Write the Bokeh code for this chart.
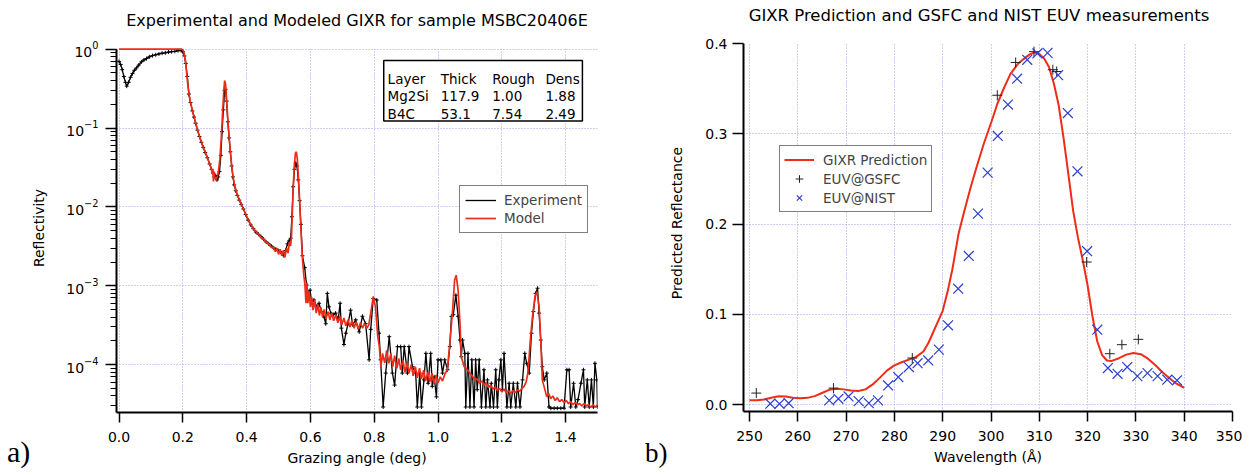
from bokeh.plotting import figure
from bokeh.layouts import row, column
from bokeh.models import (Range1d, Legend, LegendItem, BoxAnnotation, Label, FixedTicker,
                          PrintfTickFormatter, Div)
from bokeh.core.properties import value
from bokeh.embed import file_html
from bokeh.resources import INLINE

# ---------------- data: left panel (GIXR reflectivity) ----------------
exp_angle = [
    0.000, 0.005, 0.010, 0.015, 0.020, 0.024, 0.030, 0.036, 0.042, 0.048,
    0.055, 0.062, 0.070, 0.078, 0.086, 0.095, 0.105, 0.115, 0.125, 0.135,
    0.145, 0.155, 0.165, 0.175, 0.185, 0.195, 0.200, 0.205, 0.209, 0.214,
    0.219, 0.224, 0.230, 0.235, 0.240, 0.246, 0.252, 0.258, 0.264, 0.270,
    0.277, 0.284, 0.290, 0.295, 0.299, 0.303, 0.307, 0.311, 0.315, 0.319,
    0.323, 0.327, 0.331, 0.334, 0.337, 0.341, 0.345, 0.349, 0.353, 0.357,
    0.361, 0.366, 0.371, 0.377, 0.383, 0.390, 0.397, 0.405, 0.413, 0.421,
    0.429, 0.437, 0.445, 0.453, 0.461, 0.469, 0.477, 0.485, 0.492, 0.499,
    0.506, 0.512, 0.517, 0.522, 0.528, 0.533, 0.538, 0.542, 0.546, 0.550,
    0.554, 0.558, 0.562, 0.566, 0.570, 0.575, 0.582, 0.588, 0.593, 0.599,
    0.604, 0.611, 0.620, 0.627, 0.634, 0.643, 0.648, 0.653, 0.658, 0.664,
    0.672, 0.679, 0.687, 0.693, 0.697, 0.705, 0.711, 0.718, 0.726, 0.732,
    0.742, 0.753, 0.763, 0.773, 0.784, 0.789, 0.797, 0.808, 0.815, 0.820,
    0.828, 0.836, 0.847, 0.857, 0.864, 0.873, 0.883, 0.888, 0.894, 0.904,
    0.909, 0.920, 0.930, 0.935, 0.943, 0.948, 0.956, 0.962, 0.969, 0.977,
    0.982, 0.988, 0.995, 1.000, 1.009, 1.014, 1.021, 1.030, 1.037, 1.042,
    1.048, 1.056, 1.063, 1.069, 1.073, 1.077, 1.084, 1.087, 1.094, 1.100,
    1.106, 1.113, 1.118, 1.123, 1.129, 1.136, 1.144, 1.150, 1.155, 1.163,
    1.167, 1.174, 1.181, 1.186, 1.191, 1.197, 1.202, 1.207, 1.216, 1.223,
    1.228, 1.236, 1.244, 1.249, 1.257, 1.265, 1.272, 1.278, 1.286, 1.293,
    1.299, 1.306, 1.312, 1.317, 1.322, 1.327, 1.333, 1.341, 1.348, 1.354,
    1.364, 1.374, 1.385, 1.395, 1.404, 1.411, 1.416, 1.425, 1.432, 1.439,
    1.448, 1.456, 1.460, 1.468, 1.474, 1.481, 1.487, 1.492, 1.498, 1.500,
]
exp_refl = [
    0.70, 0.64, 0.55, 0.45, 0.38, 0.34, 0.38, 0.44, 0.49, 0.54,
    0.58, 0.63, 0.69, 0.73, 0.76, 0.80, 0.83, 0.85, 0.87, 0.89,
    0.90, 0.92, 0.93, 0.94, 0.96, 0.96, 0.93, 0.82, 0.66, 0.45,
    0.27, 0.21, 0.165, 0.138, 0.115, 0.094, 0.078, 0.066, 0.057, 0.049,
    0.042, 0.035, 0.030, 0.027, 0.024, 0.025, 0.022, 0.024, 0.028, 0.045,
    0.090, 0.17, 0.30, 0.31, 0.22, 0.12, 0.075, 0.050, 0.033, 0.024,
    0.019, 0.016, 0.0140, 0.0122, 0.0108, 0.0094, 0.0080, 0.0068, 0.0059, 0.0053,
    0.0048, 0.0045, 0.0042, 0.0039, 0.0036, 0.0034, 0.0032, 0.0030, 0.0029, 0.0028,
    0.0027, 0.0026, 0.0024, 0.0028, 0.0034, 0.0037, 0.0040, 0.0075, 0.018, 0.030,
    0.036, 0.033, 0.022, 0.012, 0.0060, 0.0024, 0.0017, 0.00102, 0.00080, 0.00088,
    0.00060, 0.00066, 0.00054, 0.00060, 0.00047, 0.00040, 0.00033, 0.00080, 0.00054, 0.00045,
    0.00043, 0.00045, 0.00037, 0.00060, 0.00029, 0.00018, 0.00025, 0.00033, 0.00049, 0.00032,
    0.00037, 0.00026, 0.00041, 0.00033, 0.000115, 0.00028, 0.00069, 0.00066, 0.00025, 0.000115,
    0.000029, 0.000078, 0.000226, 0.000078, 0.000055, 0.000169, 0.000169, 0.000078, 0.000169, 0.000078,
    0.000169, 0.000094, 0.000078, 0.000029, 0.000078, 0.000029, 0.000064, 0.000139, 0.000058, 0.000139,
    0.000053, 0.000070, 0.000039, 0.000115, 0.000115, 0.000078, 0.000115, 0.000086, 0.000169, 0.00041,
    0.00043, 0.00076, 0.00041, 0.000205, 0.000126, 0.000205, 0.000139, 0.000029, 0.000139, 0.000029,
    0.000115, 0.000029, 0.000115, 0.000048, 0.000115, 0.000029, 0.000086, 0.000029, 0.000064, 0.000029,
    0.000058, 0.000029, 0.000086, 0.000029, 0.000064, 0.000115, 0.000048, 0.000139, 0.000029, 0.000058,
    0.000029, 0.000058, 0.000029, 0.000058, 0.000029, 0.000064, 0.000139, 0.000104, 0.000078, 0.00025,
    0.00047, 0.00080, 0.00093, 0.00045, 0.000205, 0.000094, 0.000064, 0.000078, 0.000029, 0.000028,
    0.000028, 0.000028, 0.000028, 0.000028, 0.000086, 0.000086, 0.000029, 0.000058, 0.000029, 0.000036,
    0.000058, 0.000086, 0.000029, 0.000064, 0.000029, 0.000064, 0.000029, 0.000104, 0.000064, 0.000029,
]

model_angle = [
    0.000, 0.100, 0.195, 0.200, 0.204, 0.208, 0.212, 0.216, 0.220, 0.224,
    0.230, 0.235, 0.240, 0.246, 0.252, 0.258, 0.264, 0.270, 0.277, 0.284,
    0.289, 0.292, 0.294, 0.296, 0.298, 0.300, 0.304, 0.308, 0.312, 0.316,
    0.320, 0.324, 0.328, 0.331, 0.334, 0.337, 0.341, 0.345, 0.349, 0.353,
    0.357, 0.361, 0.366, 0.371, 0.377, 0.383, 0.390, 0.397, 0.405, 0.413,
    0.421, 0.429, 0.437, 0.445, 0.453, 0.461, 0.469, 0.477, 0.485, 0.490,
    0.495, 0.500, 0.505, 0.510, 0.515, 0.520, 0.525, 0.530, 0.534, 0.538,
    0.541, 0.545, 0.549, 0.553, 0.556, 0.559, 0.563, 0.567, 0.571, 0.575,
    0.579, 0.583, 0.586, 0.589, 0.592, 0.596, 0.600, 0.604, 0.608, 0.613,
    0.618, 0.623, 0.628, 0.633, 0.638, 0.643, 0.649, 0.655, 0.661, 0.667,
    0.673, 0.680, 0.686, 0.692, 0.698, 0.705, 0.711, 0.718, 0.724, 0.730,
    0.737, 0.743, 0.750, 0.757, 0.763, 0.770, 0.777, 0.783, 0.789, 0.797,
    0.804, 0.811, 0.816, 0.821, 0.826, 0.833, 0.839, 0.846, 0.852, 0.858,
    0.864, 0.871, 0.877, 0.883, 0.890, 0.896, 0.903, 0.909, 0.916, 0.922,
    0.929, 0.935, 0.942, 0.948, 0.955, 0.961, 0.968, 0.974, 0.981, 0.987,
    0.994, 1.000, 1.007, 1.014, 1.021, 1.029, 1.038, 1.045, 1.052, 1.057,
    1.063, 1.069, 1.073, 1.082, 1.092, 1.100, 1.107, 1.115, 1.123, 1.130,
    1.137, 1.144, 1.151, 1.158, 1.165, 1.172, 1.179, 1.186, 1.193, 1.200,
    1.207, 1.214, 1.221, 1.228, 1.235, 1.242, 1.249, 1.256, 1.263, 1.270,
    1.276, 1.281, 1.286, 1.290, 1.296, 1.304, 1.310, 1.317, 1.322, 1.327,
    1.334, 1.341, 1.347, 1.353, 1.360, 1.367, 1.374, 1.381, 1.388, 1.395,
    1.402, 1.409, 1.416, 1.423, 1.430, 1.437, 1.444, 1.451, 1.458, 1.465,
    1.472, 1.479, 1.486, 1.493, 1.500,
]
model_refl = [
    1.0, 1.0, 1.0, 0.98, 0.90, 0.72, 0.50, 0.34, 0.26, 0.21,
    0.168, 0.140, 0.117, 0.095, 0.079, 0.067, 0.057, 0.050, 0.042, 0.035,
    0.031, 0.026, 0.030, 0.021, 0.028, 0.024, 0.022, 0.024, 0.029, 0.040,
    0.070, 0.14, 0.28, 0.40, 0.36, 0.24, 0.13, 0.078, 0.050, 0.034,
    0.025, 0.020, 0.0165, 0.0142, 0.0124, 0.0109, 0.0094, 0.0081, 0.0069, 0.0060,
    0.0053, 0.0049, 0.0045, 0.0041, 0.0039, 0.0036, 0.0034, 0.0031, 0.0030, 0.0027,
    0.0030, 0.0025, 0.0029, 0.0024, 0.0028, 0.0023, 0.0030, 0.0026, 0.0036, 0.0032,
    0.0045, 0.014, 0.032, 0.048, 0.050, 0.040, 0.022, 0.010, 0.0045, 0.0022,
    0.0014, 0.0010, 0.00060, 0.0011, 0.00060, 0.00085, 0.00054, 0.00072, 0.00049, 0.00066,
    0.00045, 0.00058, 0.00042, 0.00053, 0.00040, 0.00050, 0.00038, 0.00047, 0.00037, 0.00045,
    0.00036, 0.00043, 0.00034, 0.00041, 0.00032, 0.00039, 0.00031, 0.00037, 0.00030, 0.00036,
    0.00029, 0.00035, 0.00028, 0.00034, 0.00029, 0.00033, 0.00029, 0.00032, 0.00045, 0.00073,
    0.00054, 0.00023, 0.000169, 0.000094, 0.000139, 0.000105, 0.000152, 0.000104, 0.000139, 0.000094,
    0.000130, 0.000090, 0.000120, 0.000086, 0.000115, 0.000080, 0.000105, 0.000078, 0.000100, 0.000072,
    0.000094, 0.000068, 0.000090, 0.000066, 0.000085, 0.000062, 0.000080, 0.000060, 0.000078, 0.000058,
    0.000074, 0.000058, 0.000070, 0.000062, 0.000075, 0.000086, 0.000205, 0.00045, 0.00118, 0.00136,
    0.00088, 0.00033, 0.000126, 0.000094, 0.000086, 0.000078, 0.000072, 0.000064, 0.000066, 0.000058,
    0.000062, 0.000055, 0.000059, 0.000051, 0.000055, 0.000049, 0.000052, 0.000047, 0.000050, 0.000045,
    0.000049, 0.000044, 0.000047, 0.000043, 0.000047, 0.000044, 0.000048, 0.000046, 0.000050, 0.000053,
    0.000060, 0.000075, 0.000130, 0.00022, 0.00040, 0.00073, 0.00084, 0.00054, 0.000205, 0.000064,
    0.000050, 0.000039, 0.000043, 0.000037, 0.000040, 0.000035, 0.000038, 0.000034, 0.000036, 0.000033,
    0.000035, 0.000032, 0.000034, 0.000031, 0.000033, 0.000031, 0.000032, 0.000030, 0.000032, 0.000030,
    0.000031, 0.000029, 0.000031, 0.000029, 0.000031,
]

angle_ticks = [0.0, 0.2, 0.4, 0.6, 0.8, 1.0, 1.2, 1.4]

table_header = ["Layer", "Thick", "Rough", "Dens"]
table_rows = [
    ["Mg2Si", "117.9", "1.00", "1.88"],
    ["B4C", "53.1", "7.54", "2.49"],
]

# ---------------- data: right panel (EUV reflectance) ----------------
gixr_wl = [
    250.0, 251.5, 253.0, 254.5, 256.0, 257.5, 259.0, 260.5, 262.0, 263.5,
    265.0, 266.5, 268.0, 269.5, 271.0, 272.5, 274.0, 275.5, 277.0, 278.5,
    280.0, 281.5, 283.0, 284.5, 286.0, 287.0, 288.0, 289.0, 290.0, 291.0,
    292.0, 293.3, 294.5, 295.8, 297.0, 298.5, 300.0, 301.3, 302.7, 304.0,
    305.5, 306.8, 308.0, 309.0, 310.0, 311.0, 312.0, 313.0, 314.0, 315.0,
    316.0, 317.0, 318.0, 319.0, 320.0, 321.0, 322.0, 323.0, 324.0, 325.0,
    326.5, 328.0, 329.5, 331.0, 332.5, 334.0, 335.5, 337.0, 338.5, 340.0,
]
gixr_R = [
    0.0050, 0.0050, 0.0058, 0.0078, 0.0093, 0.0090, 0.0078, 0.0072, 0.0076, 0.0095,
    0.0130, 0.0165, 0.0178, 0.0170, 0.0158, 0.0152, 0.0170, 0.0225, 0.0300, 0.0380,
    0.0435, 0.0470, 0.0500, 0.0530, 0.0590, 0.0680, 0.0800, 0.0920, 0.1040, 0.1250,
    0.1500, 0.1900, 0.2150, 0.2410, 0.2630, 0.2890, 0.3120, 0.3330, 0.3510, 0.3660,
    0.3770, 0.3830, 0.3880, 0.3900, 0.3885, 0.3835, 0.3740, 0.3560, 0.3320, 0.2960,
    0.2560, 0.2150, 0.1850, 0.1600, 0.1320, 0.0980, 0.0700, 0.0550, 0.0490, 0.0485,
    0.0515, 0.0555, 0.0572, 0.0560, 0.0510, 0.0440, 0.0360, 0.0290, 0.0230, 0.0188,
]
gsfc_wl = [251.4, 267.4, 283.7, 301.3, 305.1, 308.9, 312.8, 313.6, 319.8, 324.6, 327.1, 330.5]
gsfc_R = [0.0129, 0.0184, 0.0517, 0.3427, 0.3790, 0.3910, 0.3710, 0.3690, 0.1580, 0.0565, 0.0665, 0.0724]
nist_wl = [
    254.3, 256.2, 258.1, 266.5, 268.4, 270.5, 272.6, 274.7, 276.6, 278.7,
    280.8, 283.0, 284.8, 287.0, 289.2, 291.1, 293.2, 295.4, 297.3, 299.3,
    301.4, 303.5, 305.4, 307.5, 309.6, 311.7, 313.9, 315.9, 317.9, 319.9,
    322.0, 324.2, 326.2, 328.2, 330.3, 332.4, 334.5, 336.5, 338.5,
]
nist_R = [
    0.0011, 0.0010, 0.0017, 0.0048, 0.0066, 0.0092, 0.0040, 0.0018, 0.0048, 0.0214,
    0.0306, 0.0417, 0.0460, 0.0490, 0.0610, 0.0879, 0.1285, 0.1647, 0.2116, 0.2570,
    0.2976, 0.3324, 0.3610, 0.3820, 0.3890, 0.3896, 0.3650, 0.3230, 0.2585, 0.1700,
    0.0831, 0.0406, 0.0343, 0.0417, 0.0317, 0.0350, 0.0317, 0.0277, 0.0270,
]
wl_ticks = [250, 260, 270, 280, 290, 300, 310, 320, 330, 340, 350]
refl_ticks = [0.0, 0.1, 0.2, 0.3, 0.4]

title_left = "Experimental and Modeled GIXR for sample MSBC20406E"
title_right = "GIXR Prediction and GSFC and NIST EUV measurements"
ylabel_left = "Reflectivity"
ylabel_right = "Predicted Reflectance"
panel_tags = ["a)", "b)"]

# ---------------- styling ----------------
FONT = "DejaVu Sans"
SERIF = "Liberation Serif"
GRID = "#9d9df0"
RED = "#ee2c18"
BLUE = "#2a3dd4"


def style(p):
    p.outline_line_color = None
    p.background_fill_color = "white"
    p.border_fill_color = "white"
    for ax in (p.xaxis[0], p.yaxis[0]):
        ax.axis_line_width = 2
        ax.axis_line_color = "black"
        ax.major_tick_line_width = 1.5
        ax.major_tick_line_color = "black"
        ax.minor_tick_line_width = 1
        ax.minor_tick_line_color = "black"
        ax.major_tick_in = 0
        ax.minor_tick_in = 0
        ax.major_label_text_font = FONT
        ax.major_label_text_font_size = "14px"
        ax.major_label_text_color = "black"
        ax.axis_label_text_font = FONT
        ax.axis_label_text_font_size = "14px"
        ax.axis_label_text_font_style = "normal"
        ax.axis_label_text_color = "black"
    for g in p.grid:
        g.grid_line_color = GRID
        g.grid_line_dash = "1 2"
        g.grid_line_width = 1


def span(txt, left, top, width, font, size, lh, align="left", rotate=False):
    st = ("position:absolute;left:%.1fpx;top:%.1fpx;width:%dpx;height:%dpx;line-height:%dpx;"
          "font-family:'%s';font-size:%s;color:black;text-align:%s;white-space:nowrap;margin:0;padding:0;"
          % (left, top, width, lh, lh, font, size, align))
    if rotate:
        st += "transform:rotate(-90deg);transform-origin:50% 50%;"
    return '<div style="%s">%s</div>' % (st, txt)


def text_div(parts, width, height):
    html = ('<div style="position:relative;width:%dpx;height:%dpx;margin:0;padding:0;">%s</div>'
            % (width, height, "".join(parts)))
    return Div(text=html, width=width, height=height, margin=0,
               styles={"overflow": "visible"})


TOP_H = 32      # height of the title strip
PLOT_H = 439    # height of the plot strip

# ---------------- left panel ----------------
p1 = figure(frame_width=481, frame_height=369,
            x_range=Range1d(-0.008, 1.5), y_range=Range1d(2.47e-5, 1.181),
            y_axis_type="log", output_backend="svg", toolbar_location=None,
            min_border_left=56, min_border_right=8, min_border_top=11, min_border_bottom=59)
style(p1)
p1.xaxis.ticker = FixedTicker(ticks=angle_ticks)
p1.xaxis.formatter = PrintfTickFormatter(format="%.1f")
p1.xaxis.minor_tick_line_color = None
p1.xaxis.major_tick_out = 10
p1.xaxis.major_label_standoff = 9
p1.xaxis.axis_label = "Grazing angle (deg)"
p1.xaxis.axis_label_standoff = 5
p1.yaxis.bounds = (2.47e-5, 1.0)
p1.yaxis.major_tick_out = 11
p1.yaxis.minor_tick_out = 6
p1.yaxis.major_label_standoff = 7

# the data area ends at reflectivity 1: hide the grid above it
p1.add_layout(BoxAnnotation(bottom=1.01, fill_color="white", fill_alpha=1.0,
                            line_alpha=0, level="underlay"))

exp_line = p1.line(exp_angle, exp_refl, line_color="black", line_width=1.3)
exp_pts = p1.scatter(exp_angle, exp_refl, marker="cross", size=4, line_color="black", line_width=1)
mod_line = p1.line(model_angle, model_refl, line_color=RED, line_width=1.7)
exp_key = p1.scatter([], [], marker="cross", size=12, line_color="black", line_width=1)

table_box = BoxAnnotation(left=0.8298, right=1.4527, bottom=0.1227, top=0.719,
                          fill_color="white", fill_alpha=1.0,
                          line_color="black", line_width=1.5, line_alpha=1.0)
p1.add_layout(table_box)
col_x = [0.842, 1.0085, 1.1699, 1.3367]
row_y = [0.4219, 0.2519, 0.1491]
for r, cells in enumerate([table_header] + table_rows):
    for c, txt in enumerate(cells):
        p1.add_layout(Label(x=col_x[c], y=row_y[r], text=txt, text_font=FONT,
                            text_font_size="13.5px", text_color="black",
                            text_baseline="alphabetic", text_align="left"))

leg1 = Legend(items=[LegendItem(label=value("Experiment"), renderers=[exp_line, exp_key]),
                     LegendItem(label=value("Model"), renderers=[mod_line])],
              location=(343, 179), margin=0, padding=5, spacing=0,
              glyph_width=31, glyph_height=18, label_height=18, label_standoff=8,
              label_text_font=FONT, label_text_font_size="13.5px",
              border_line_color="black", border_line_width=1.5,
              background_fill_color="white", background_fill_alpha=1.0)
p1.add_layout(leg1)

# ---------------- right panel ----------------
p2 = figure(frame_width=489, frame_height=368,
            x_range=Range1d(248.75, 350), y_range=Range1d(-0.0075, 0.4),
            output_backend="svg", toolbar_location=None,
            min_border_left=43, min_border_right=10, min_border_top=11, min_border_bottom=59)
style(p2)
p2.xaxis.ticker = FixedTicker(ticks=wl_ticks)
p2.yaxis.ticker = FixedTicker(ticks=refl_ticks)
p2.yaxis.formatter = PrintfTickFormatter(format="%.1f")
p2.xaxis.minor_tick_line_color = None
p2.yaxis.minor_tick_line_color = None
p2.xaxis.major_tick_out = 10
p2.yaxis.major_tick_out = 11
p2.xaxis.major_label_standoff = 9
p2.yaxis.major_label_standoff = 5
p2.xaxis.axis_label = "Wavelength (Å)"
p2.xaxis.axis_label_standoff = 5

gixr_line = p2.line(gixr_wl, gixr_R, line_color=RED, line_width=2)
gsfc_pts = p2.scatter(gsfc_wl, gsfc_R, marker="cross", size=10, line_color="#222222", line_width=1)
nist_pts = p2.scatter(nist_wl, nist_R, marker="x", size=14, line_color=BLUE, line_width=1.2)

leg2 = Legend(items=[LegendItem(label=value("GIXR Prediction"), renderers=[gixr_line]),
                     LegendItem(label=value("EUV@GSFC"), renderers=[gsfc_pts]),
                     LegendItem(label=value("EUV@NIST"), renderers=[nist_pts])],
              location=(36, 199), margin=0, padding=4, spacing=0,
              glyph_width=30, glyph_height=19, label_height=19, label_standoff=9,
              label_text_font=FONT, label_text_font_size="13.5px",
              border_line_color="black", border_line_width=1.5,
              background_fill_color="white", background_fill_alpha=1.0)
p2.add_layout(leg2)

# ---------------- texts outside the plot frames ----------------
title_div_l = text_div([span(title_left, 107, 11.2, 500, FONT, "16px", 20, "center")], 605, TOP_H)
title_div_r = text_div([span(title_right, 124, 6.0, 500, FONT, "16.5px", 20, "center")], 637, TOP_H)
side_div_l = text_div([span(ylabel_left, -61.4, 187.5, 200, FONT, "14px", 16, "center", rotate=True),
                       span(panel_tags[0], 7, 402.9, 40, SERIF, "30px", 34)], 60, PLOT_H)
side_div_r = text_div([span(ylabel_right, -28.1, 183.3, 200, FONT, "14px", 16, "center", rotate=True),
                       span(panel_tags[1], 40, 405.9, 40, SERIF, "27px", 30)], 95, PLOT_H)

layout = column(row(title_div_l, title_div_r),
                row(side_div_l, p1, side_div_r, p2))
open("out.html", "w").write(file_html(layout, INLINE))
